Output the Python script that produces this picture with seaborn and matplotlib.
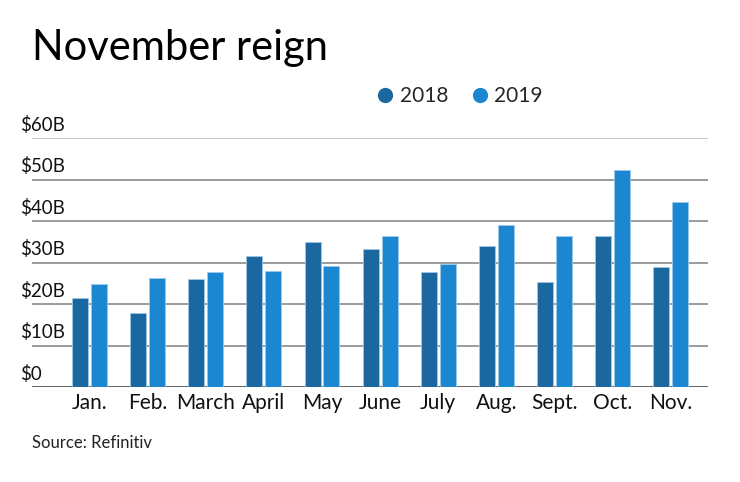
import matplotlib
matplotlib.use("Agg")
import matplotlib.pyplot as plt
from matplotlib.lines import Line2D
import seaborn as sns
import pandas as pd

months = ["Jan.", "Feb.", "March", "April", "May", "June", "July", "Aug.", "Sept.", "Oct.", "Nov."]
vals_2018 = [21.4, 17.8, 26.0, 31.5, 35.0, 33.3, 27.6, 34.0, 25.2, 36.5, 29.0]
vals_2019 = [24.9, 26.3, 27.6, 27.9, 29.2, 36.5, 29.6, 39.1, 36.4, 52.2, 44.6]
years = ["2018", "2019"]
y_ticks = [0, 10, 20, 30, 40, 50, 60]
y_labels = ["$0", "$10B", "$20B", "$30B", "$40B", "$50B", "$60B"]

df = pd.DataFrame({
    "month": months * 2,
    "value": vals_2018 + vals_2019,
    "year": [years[0]] * len(months) + [years[1]] * len(months),
})

sns.set_theme(style="white")
plt.rcParams["font.family"] = ["Lato", "DejaVu Sans"]

colors = {"2018": "#1b68a1", "2019": "#1c87d1"}

fig = plt.figure(figsize=(7.4, 4.82), dpi=100)
ax = fig.add_axes([0.0432, 0.197, 0.9135, 0.5167])

# gridlines first, behind the bars
for t in y_ticks:
    c = "#bbbbbb" if t == 60 else ("#444444" if t == 0 else "#8a8a8a")
    ax.axhline(t, color=c, lw=1.2, zorder=0)

sns.barplot(data=df, x="month", y="value", hue="year", palette=colors,
            saturation=1, width=0.652, gap=0.156, ax=ax, legend=False, zorder=2,
            edgecolor="#9cc8ea", linewidth=0.6)

ax.set_ylim(0, 60)
ax.set_xlim(-0.99, 10.64)
ax.set_xlabel("")
ax.set_ylabel("")
ax.set_yticks([])
for s in ax.spines.values():
    s.set_visible(False)
ax.tick_params(axis="x", length=0, pad=4, labelsize=15, colors="#111111")

for t, lab in zip(y_ticks, y_labels):
    ax.text(-0.018, t + 1.0, lab, transform=ax.get_yaxis_transform(),
            ha="left", va="bottom", fontsize=13.5, color="#111111")

fig.text(0.043, 0.90, "November reign", fontsize=30, color="#000000",
         ha="left", va="center")

handles = [Line2D([0], [0], marker="o", color="w", markerfacecolor=colors[y],
                  markersize=12, linestyle="") for y in years]
fig.legend(handles, years, loc="center", bbox_to_anchor=(0.62, 0.80), ncol=2,
           frameon=False, fontsize=15, handletextpad=0.2, columnspacing=1.0,
           handlelength=1.0)

fig.text(0.043, 0.081, "Source: Refinitiv", fontsize=12, color="#222222",
         ha="left", va="center")

fig.savefig("out.png", dpi=100)
